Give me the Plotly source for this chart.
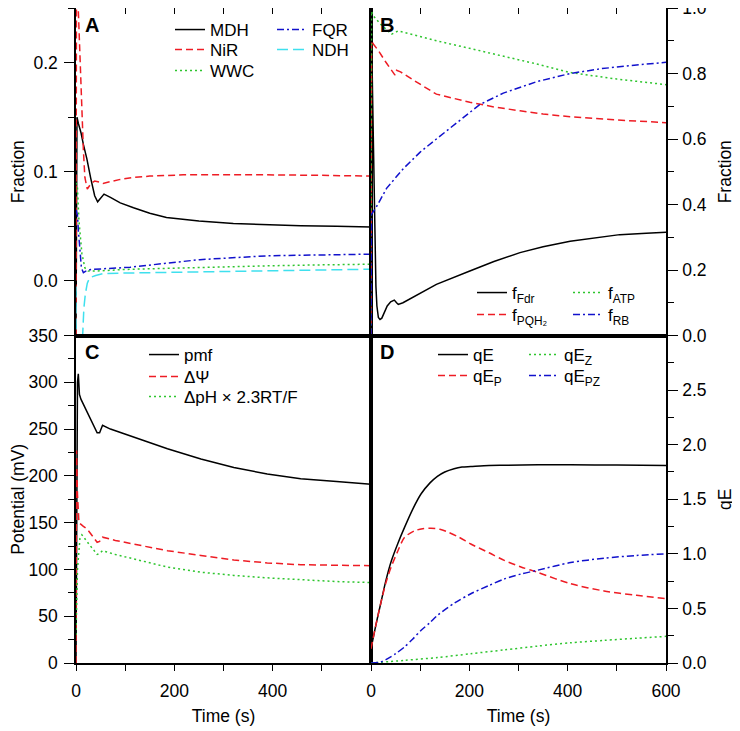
import plotly.graph_objects as go
from plotly.subplots import make_subplots

# ---------------- Panel A (fractions) ----------------
t_mdh = [0, 0.5, 2, 5, 10, 15, 22, 30, 38, 44, 50, 57, 70, 90, 117, 150, 184, 250, 320, 400, 457, 530, 600]
mdh = [-0.05, 0.10, 0.150, 0.144, 0.136, 0.125, 0.112, 0.094, 0.078, 0.0725, 0.076, 0.0795, 0.0765, 0.0715,
       0.067, 0.062, 0.058, 0.055, 0.0526, 0.0513, 0.0505, 0.050, 0.0495]
t_nir = [0, 1, 4.7, 8, 12, 15, 18, 23, 30, 38, 47, 55, 70, 90, 116, 150, 218, 300, 388, 500, 600]
nir = [-0.05, 0.30, 0.248, 0.20, 0.15, 0.12, 0.095, 0.084, 0.089, 0.0915, 0.0905, 0.0893, 0.091, 0.093,
       0.0948, 0.096, 0.0972, 0.0975, 0.0972, 0.0967, 0.096]
t_wwc = [0, 3, 6, 8, 12, 18, 25, 40, 60, 100, 184, 300, 388, 500, 600]
wwc = [0.09, 0.085, 0.055, 0.043, 0.025, 0.012, 0.009, 0.009, 0.0095, 0.0105, 0.0115, 0.013, 0.0138, 0.0147, 0.0153]
t_fqr = [0, 3, 5, 8, 11, 15, 20, 30, 45, 60, 110, 180, 252, 388, 500, 600]
fqr = [0.065, 0.06, 0.045, 0.025, 0.012, 0.0075, 0.009, 0.0105, 0.0108, 0.0112, 0.0125, 0.016, 0.0195, 0.023,
       0.024, 0.0245]
t_ndh = [0, 1, 12, 13.5, 16, 19, 23, 28, 40, 55, 100, 184, 300, 388, 500, 600]
ndh = [-0.005, -0.3, -0.2, -0.05, -0.025, -0.012, -0.002, 0.003, 0.005, 0.0067, 0.0072, 0.0078, 0.0088,
       0.0092, 0.010, 0.0107]

# ---------------- Panel B (fractions) ----------------
t_fdr = [0, 0.5, 3, 6, 8, 10, 12, 15, 18.3, 22, 27, 33, 40, 47.4, 52, 55.5, 65, 90, 133, 201, 250, 303,
         350, 405, 460, 506, 560, 600]
fdr = [0.0, 1.0, 0.75, 0.45, 0.26, 0.15, 0.09, 0.055, 0.049, 0.053, 0.07, 0.09, 0.103, 0.108, 0.1, 0.095,
       0.1, 0.12, 0.156, 0.197, 0.226, 0.253, 0.271, 0.288, 0.300, 0.308, 0.312, 0.315]
t_pqh = [0, 1, 4.7, 15, 30, 48.8, 52, 60, 99, 133, 201, 250, 303, 350, 405, 500, 600]
pqh = [0.0, 0.90, 0.89, 0.87, 0.835, 0.795, 0.81, 0.805, 0.768, 0.737, 0.712, 0.698, 0.686, 0.676, 0.668,
       0.658, 0.650]
t_atp = [0, 1, 4.7, 20, 42, 55, 90, 133, 200, 269, 337, 405, 500, 600]
atp = [0.0, 0.99, 0.976, 0.95, 0.92, 0.93, 0.917, 0.90, 0.877, 0.854, 0.829, 0.803, 0.783, 0.766]
t_rb = [0, 1, 10, 32, 66, 100, 133, 170, 201, 221, 269, 337, 405, 470, 540, 600]
rb = [0.0, 0.37, 0.39, 0.45, 0.51, 0.56, 0.60, 0.645, 0.68, 0.705, 0.74, 0.775, 0.80, 0.815, 0.826, 0.834]

# ---------------- Panel C (potentials, mV) ----------------
t_pmf = [0, 1, 3, 4.7, 7, 10, 23, 35, 43, 48, 54, 70, 118, 186, 254, 321, 389, 457, 530, 600]
pmf = [0, 200, 300, 309, 287, 282, 268, 255, 246, 246, 254, 250, 241, 229, 218, 209, 202, 197, 194, 191]
t_psi = [0, 1, 3, 6, 15, 23, 43, 48, 54, 80, 118, 186, 254, 321, 389, 457, 530, 600]
psi = [0, 227, 180, 150, 146, 143, 129, 130, 134.5, 131, 127, 120, 115, 110, 107, 105, 104.5, 104]
t_dph = [0, 3, 8, 12, 25, 43, 48, 54, 80, 118, 186, 254, 321, 389, 457, 530, 600]
dph = [30, 100, 133, 137, 128, 116, 117, 120, 116, 111, 102.5, 97, 93.6, 91, 89, 87, 86]

# ---------------- Panel D (qE) ----------------
t_qe = [0, 10, 20, 30, 41, 55, 68, 85, 102, 120, 135, 150, 169, 185, 203, 240, 271, 340, 406, 500, 600]
qe = [0.13, 0.35, 0.55, 0.75, 0.93, 1.10, 1.24, 1.41, 1.55, 1.65, 1.71, 1.75, 1.78, 1.795, 1.80, 1.81,
      1.812, 1.815, 1.815, 1.813, 1.81]
t_qep = [0, 10, 20, 30, 41, 55, 68, 88, 105, 122, 140, 156, 180, 203, 240, 271, 305, 339, 406, 474, 540, 600]
qep = [0.13, 0.35, 0.55, 0.73, 0.88, 1.03, 1.15, 1.21, 1.23, 1.235, 1.225, 1.20, 1.15, 1.09, 1.01, 0.94,
       0.88, 0.83, 0.726, 0.66, 0.62, 0.59]
t_qez = [0, 68, 135, 203, 271, 339, 406, 474, 540, 600]
qez = [0, 0.024, 0.05, 0.085, 0.12, 0.155, 0.185, 0.207, 0.227, 0.244]
t_qepz = [0, 20, 34, 50, 68, 85, 102, 120, 135, 170, 203, 240, 271, 305, 339, 406, 474, 540, 600]
qepz = [0, 0.01, 0.04, 0.085, 0.146, 0.22, 0.30, 0.37, 0.436, 0.55, 0.634, 0.71, 0.77, 0.815, 0.85, 0.92,
        0.96, 0.985, 1.0]

x_ticks = [0, 200, 400, 600]

BLACK = "#000000"
RED = "#ee1c24"
GREEN = "#2ec52e"
BLUE = "#1111cc"
CYAN = "#3fe0ee"
DASH = "7px,4px"
DOT = "2px,3px"
DASHDOT = "7px,3px,2px,3px"
LONGDASH = "11px,5px"

FONT = "Liberation Sans, Arial, sans-serif"
FS = 17.5
LFS = 17

fig = make_subplots(rows=2, cols=2, horizontal_spacing=0, vertical_spacing=0)

# page offset from the default 8px body margin
OFF = 8
# desired plot area on screen (px)
L, R, T, B = 76, 666, 8, 663
W, H = R - L, B - T


def px_to_paper(xp, yp):
    return (xp - L) / W, (B - yp) / H


legends = {}
leg_count = [0]


def add(row, col, t, y, name, color, dash, lx, ly, shape="linear"):
    leg_count[0] += 1
    key = "legend" if leg_count[0] == 1 else f"legend{leg_count[0]}"
    px, py = px_to_paper(lx - 5, ly)
    legends[key] = dict(x=px, y=py, xanchor="left", yanchor="middle", bgcolor="rgba(0,0,0,0)",
                        borderwidth=0, font=dict(family=FONT, size=LFS, color="black"),
                        itemwidth=30)
    line = dict(color=color, dash=dash, width=1.5, shape=shape)
    if shape == "spline":
        line["smoothing"] = 0.8
    fig.add_trace(go.Scatter(x=t, y=y, name=name, mode="lines", line=line, legend=key), row=row, col=col)


# Panel A
add(1, 1, t_mdh, mdh, "MDH", BLACK, "solid", 175, 30)
add(1, 1, t_nir, nir, "NiR", RED, DASH, 175, 50)
add(1, 1, t_wwc, wwc, "WWC", GREEN, DOT, 175, 71)
add(1, 1, t_fqr, fqr, "FQR", BLUE, DASHDOT, 277, 30)
add(1, 1, t_ndh, ndh, "NDH", CYAN, LONGDASH, 277, 50)
# Panel B
add(1, 2, t_fdr, fdr, "f<sub>Fdr</sub>", BLACK, "solid", 477, 293)
add(1, 2, t_pqh, pqh, "f<sub>PQH₂</sub>", RED, DASH, 477, 315)
add(1, 2, t_atp, atp, "f<sub>ATP</sub>", GREEN, DOT, 573, 293)
add(1, 2, t_rb, rb, "f<sub>RB</sub>", BLUE, DASHDOT, 573, 315)
# Panel C
add(2, 1, t_pmf, pmf, "pmf", BLACK, "solid", 149, 355)
add(2, 1, t_psi, psi, "ΔΨ", RED, DASH, 149, 377)
add(2, 1, t_dph, dph, "ΔpH × 2.3RT/F", GREEN, DOT, 149, 397)
# Panel D
add(2, 2, t_qe, qe, "qE", BLACK, "solid", 438, 355, "spline")
add(2, 2, t_qep, qep, "qE<sub>P</sub>", RED, DASH, 438, 376, "spline")
add(2, 2, t_qez, qez, "qE<sub>Z</sub>", GREEN, DOT, 529, 355, "spline")
add(2, 2, t_qepz, qepz, "qE<sub>PZ</sub>", BLUE, DASHDOT, 529, 376, "spline")

axis_common = dict(showline=True, linecolor="black", linewidth=1.5, mirror=True, showgrid=False,
                   zeroline=False, tickcolor="black", tickwidth=1.2, automargin=False,
                   tickfont=dict(family=FONT, size=FS, color="black"),
                   title_font=dict(family=FONT, size=FS, color="black"))
minor_common = dict(ticks="outside", ticklen=6, tickcolor="black", tickwidth=1.2)

# x axes
top_x = dict(range=[0, 600], side="top", ticks="inside", ticklen=6, tickvals=[0, 100, 200, 300, 400, 500, 600],
             showticklabels=False, **axis_common)
fig.update_xaxes(**top_x, row=1, col=1)
fig.update_xaxes(**top_x, row=1, col=2)
fig.update_xaxes(range=[0, 600], side="bottom", ticks="outside", ticklen=6, tickvals=x_ticks,
                 ticktext=["0", "200", "400", ""], ticklabelstandoff=5, ticklabeloverflow="allow",
                 minor=dict(dtick=100, tick0=0, **minor_common),
                 title=dict(text="Time (s)", standoff=10), **axis_common, row=2, col=1)
fig.update_xaxes(range=[0, 600], side="bottom", ticks="outside", ticklen=6, tickvals=x_ticks,
                 ticktext=["0", "200", "400", "600"], ticklabelstandoff=5, ticklabeloverflow="allow",
                 minor=dict(dtick=100, tick0=0, **minor_common),
                 title=dict(text="Time (s)", standoff=10), **axis_common, row=2, col=2)

# y axes
fig.update_yaxes(range=[-0.05, 0.25], side="left", ticks="outside", ticklen=10, tickvals=[0, 0.1, 0.2],
                 ticktext=["0.0", "0.1", "0.2"], ticklabelstandoff=3, ticklabeloverflow="allow",
                 minor=dict(dtick=0.05, tick0=0, **minor_common),
                 title=dict(text="Fraction", standoff=10), **axis_common, row=1, col=1)
fig.update_yaxes(range=[0, 1], side="right", ticks="outside", ticklen=10, dtick=0.2, tickformat=".1f",
                 ticklabelstandoff=1, ticklabeloverflow="allow",
                 minor=dict(dtick=0.1, tick0=0, **minor_common),
                 title=dict(text="Fraction", standoff=13), **axis_common, row=1, col=2)
fig.update_yaxes(range=[0, 350], side="left", ticks="outside", ticklen=10, dtick=50, ticklabelstandoff=3,
                 ticklabeloverflow="allow",
                 minor=dict(dtick=25, tick0=0, **minor_common),
                 title=dict(text="Potential (mV)", standoff=10), **axis_common, row=2, col=1)
fig.update_yaxes(range=[0, 3], side="right", ticks="outside", ticklen=10,
                 tickvals=[0, 0.5, 1.0, 1.5, 2.0, 2.5, 3.0], ticktext=["0.0", "0.5", "1.0", "1.5", "2.0", "2.5", ""],
                 ticklabelstandoff=1, ticklabeloverflow="allow",
                 minor=dict(dtick=0.25, tick0=0, **minor_common),
                 title=dict(text="qE", standoff=13), **axis_common, row=2, col=2)

# panel letters
for letter, (lx, ly) in zip(["A", "B", "C", "D"], [(83, 25), (378, 25), (83, 352), (378, 352)]):
    ax, ay = px_to_paper(lx, ly)
    fig.add_annotation(text=f"<b>{letter}</b>", x=ax, y=ay, xref="paper", yref="paper", xanchor="left",
                       yanchor="middle", showarrow=False, font=dict(family=FONT, size=20, color="black"))

fig.update_layout(width=740, height=731,
                  margin=dict(l=L - OFF, r=740 - R + OFF, t=T - OFF, b=731 - B + OFF),
                  plot_bgcolor="white", paper_bgcolor="white", showlegend=True, **legends)

fig.write_html("out.html")
